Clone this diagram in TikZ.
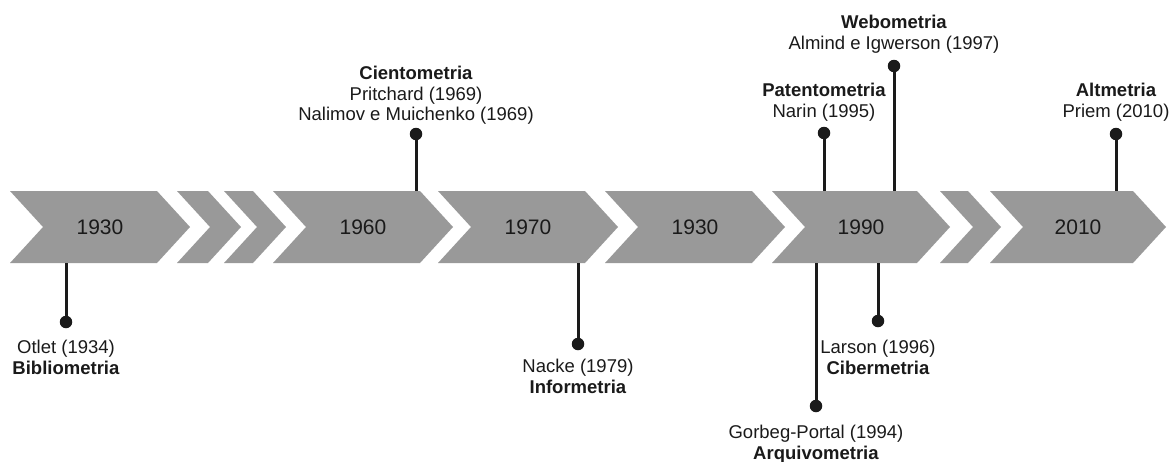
\documentclass[tikz,border=0pt]{standalone}
\usepackage{fontspec}
\setmainfont{Liberation Sans}
\definecolor{chevgray}{HTML}{999999}
\definecolor{ink}{HTML}{1A1A1A}
\newcommand\mychev[2]{%
  \fill[chev] (#1,191) -- (#2,191) -- ({#2+33},227) -- (#2,263) -- (#1,263) -- ({#1+33},227) -- cycle;}
\begin{document}
\begin{tikzpicture}[x=1pt,y=-1pt,
  chev/.style={fill=chevgray,draw=none},
  yr/.style={font=\fontsize{21}{25}\selectfont, text=ink, inner sep=0pt},
  lbl/.style={font=\fontsize{18.5}{20.5}\selectfont, align=center, inner sep=0pt, anchor=north, text=ink},
  stem/.style={line width=3pt, draw=ink},
  dot/.style={circle, fill=ink, inner sep=0pt, minimum size=12.5pt}]
\useasboundingbox (0,0) rectangle (1170,461);
% chevrons
\mychev{10}{157}
\mychev{177}{208}
\mychev{224}{253}
\mychev{273}{420}
\mychev{438}{585}
\mychev{605}{752}
\mychev{772}{917}
\mychev{940}{968}
\mychev{990}{1133}
% year labels
\node[yr] (y1) at (100,227) {1930};
\node[yr] (y2) at (363,227) {1960};
\node[yr] (y3) at (528,227) {1970};
\node[yr] (y4) at (695,227) {1930};
\node[yr] (y5) at (861,227) {1990};
\node[yr] (y6) at (1078,227) {2010};
% band anchor points
\coordinate (bBib) at (66,263);
\coordinate (bCie) at (416,191);
\coordinate (bInf) at (578,263);
\coordinate (bArq) at (816,263);
\coordinate (bPat) at (824,191);
\coordinate (bCib) at (878,263);
\coordinate (bWeb) at (894,191);
\coordinate (bAlt) at (1116,191);
% dots
\node[dot] (dBib) at (66,322) {};
\node[dot] (dCie) at (416,134) {};
\node[dot] (dInf) at (578,344) {};
\node[dot] (dArq) at (816,406) {};
\node[dot] (dPat) at (824,133) {};
\node[dot] (dCib) at (878,321) {};
\node[dot] (dWeb) at (894,66) {};
\node[dot] (dAlt) at (1116,134) {};
% stems
\foreach \n in {Bib,Cie,Inf,Arq,Pat,Cib,Web,Alt}
  \draw[stem] (b\n) -- (d\n.center);
% labels
\node[lbl] (tBib) at (66,340) {Otlet (1934)\\\textbf{Bibliometria}};
\node[lbl] (tCie) at (416,66) {\textbf{Cientometria}\\Pritchard (1969)\\Nalimov e Muichenko (1969)};
\node[lbl] (tInf) at (578,359) {Nacke (1979)\\\textbf{Informetria}};
\node[lbl] (tArq) at (816,425) {Gorbeg-Portal (1994)\\\textbf{Arquivometria}};
\node[lbl] (tPat) at (824,83) {\textbf{Patentometria}\\Narin (1995)};
\node[lbl] (tCib) at (878,340) {Larson (1996)\\\textbf{Cibermetria}};
\node[lbl] (tWeb) at (894,15) {\textbf{Webometria}\\Almind e Igwerson (1997)};
\node[lbl] (tAlt) at (1116,83) {\textbf{Altmetria}\\Priem (2010)};
\end{tikzpicture}
\end{document}
